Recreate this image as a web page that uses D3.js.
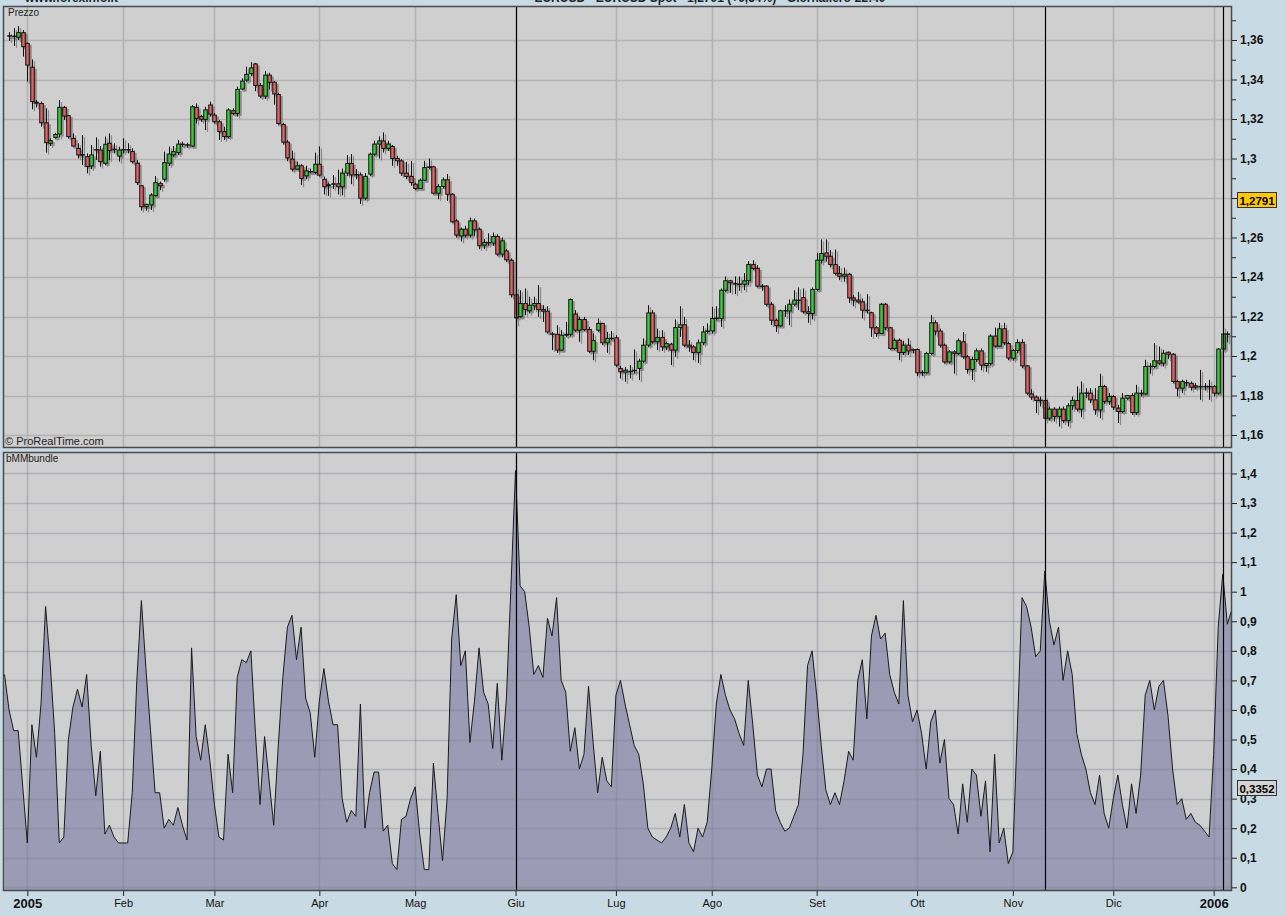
<!DOCTYPE html>
<html><head><meta charset="utf-8">
<script src="https://cdn.jsdelivr.net/npm/d3@7"></script>
<style>
body{margin:0;background:#c8dae3;overflow:hidden}
svg{display:block;font-family:"Liberation Sans",Arial,sans-serif}
</style></head><body>
<svg id="chart" width="1286" height="916"></svg>
<script>
// ---------- DATA ----------
const firstCandleDay = -4;   // trading-day index of first candle (Jan 3 2005 = 0)
const openP = [1.3620,1.3618,1.3614,1.3637,
1.3583,1.3462,1.3285,1.3279,1.3181,1.3077,1.3107,1.3124,1.3259,1.3217,
1.3102,1.3051,1.3020,1.3009,1.2962,1.3043,1.3043,1.2976,1.3077,1.3047,
1.3012,1.3045,1.3045,1.3035,1.2976,1.2862,1.2756,1.2765,1.2812,1.2874,
1.2895,1.2976,1.3018,1.3030,1.3070,1.3070,1.3063,1.3259,1.3212,1.3198,
1.3271,1.3220,1.3186,1.3136,1.3111,1.3242,1.3228,1.3352,1.3397,1.3429,
1.3479,1.3370,1.3316,1.3422,1.3386,1.3324,1.3172,1.3083,1.2997,1.2946,
1.2963,1.2912,1.2934,1.2929,1.2971,1.2895,1.2862,1.2870,1.2872,1.2857,
1.2926,1.2975,1.2919,1.2917,1.2799,1.2921,1.3022,1.3073,1.3089,1.3051,
1.3061,1.3000,1.2988,1.2926,1.2909,1.2870,1.2848,1.2890,1.2958,1.2958,
1.2824,1.2858,1.2892,1.2819,1.2684,1.2608,1.2642,1.2612,1.2684,1.2642,
1.2561,1.2575,1.2572,1.2605,1.2516,1.2532,1.2485,1.2310,1.2199,1.2266,
1.2229,1.2254,1.2266,1.2235,1.2227,1.2112,1.2110,1.2030,1.2105,1.2110,
1.2212,1.2131,1.2185,1.2134,1.2024,1.2131,1.2165,1.2067,1.2090,1.2092,
1.1937,1.1918,1.1922,1.1925,1.1937,1.1974,1.2055,1.2218,1.2072,1.2094,
1.2046,1.2060,1.2030,1.2144,1.2158,1.2055,1.2046,1.2018,1.2067,1.2125,
1.2127,1.2190,1.2190,1.2333,1.2381,1.2367,1.2365,1.2363,1.2381,1.2463,
1.2443,1.2354,1.2354,1.2262,1.2181,1.2153,1.2229,1.2228,1.2262,1.2283,
1.2296,1.2224,1.2215,1.2337,1.2485,1.2522,1.2505,1.2463,1.2418,1.2404,
1.2414,1.2294,1.2283,1.2274,1.2232,1.2219,1.2143,1.2114,1.2262,1.2143,
1.2038,1.2080,1.2018,1.2055,1.2032,1.2033,1.1915,1.1915,1.2013,1.2168,
1.2126,1.2055,1.1970,1.2021,1.2013,1.2072,1.1996,1.1932,1.1982,1.2026,
1.1952,1.1962,1.2101,1.2050,1.2138,1.2063,1.1989,1.2028,1.2068,1.1950,
1.1808,1.1792,1.1776,1.1775,1.1685,1.1731,1.1694,1.1731,1.1673,1.1748,
1.1775,1.1731,1.1812,1.1812,1.1778,1.1727,1.1846,1.1770,1.1795,1.1736,
1.1719,1.1786,1.1800,1.1714,1.1808,1.1808,1.1947,1.1947,1.1976,1.1964,
1.2019,1.2009,1.1871,1.1837,1.1866,1.1862,1.1842,1.1846,1.1846,1.1846,
1.1846,1.1812,1.2035,1.2112];
const highP = [1.3640,1.3660,1.3670,1.3650,
1.3587,1.3502,1.3296,1.3288,1.3254,1.3102,1.3130,1.3296,1.3266,1.3220,
1.3127,1.3077,1.3119,1.3026,1.3068,1.3107,1.3063,1.3111,1.3127,1.3077,
1.3060,1.3102,1.3077,1.3052,1.2992,1.2866,1.2770,1.2824,1.2911,1.2883,
1.3035,1.3060,1.3063,1.3094,1.3085,1.3080,1.3271,1.3279,1.3220,1.3262,
1.3288,1.3229,1.3195,1.3161,1.3254,1.3254,1.3364,1.3406,1.3465,1.3488,
1.3484,1.3383,1.3442,1.3434,1.3392,1.3333,1.3181,1.3093,1.3040,1.2984,
1.2971,1.2963,1.2949,1.3030,1.3061,1.2909,1.2878,1.2916,1.2943,1.2949,
1.3017,1.3022,1.2946,1.2929,1.2926,1.3030,1.3090,1.3112,1.3132,1.3090,
1.3068,1.3014,1.2997,1.2983,1.2988,1.2878,1.2899,1.2988,1.3000,1.2963,
1.2870,1.2904,1.2921,1.2824,1.2693,1.2650,1.2659,1.2701,1.2696,1.2651,
1.2592,1.2621,1.2625,1.2617,1.2600,1.2541,1.2494,1.2350,1.2333,1.2342,
1.2300,1.2300,1.2359,1.2257,1.2252,1.2122,1.2156,1.2131,1.2173,1.2291,
1.2232,1.2198,1.2198,1.2148,1.2114,1.2190,1.2168,1.2122,1.2127,1.2105,
1.1949,1.1945,1.1954,1.2033,1.1987,1.2089,1.2257,1.2232,1.2139,1.2131,
1.2072,1.2067,1.2185,1.2252,1.2198,1.2080,1.2055,1.2084,1.2151,1.2165,
1.2249,1.2252,1.2342,1.2403,1.2386,1.2403,1.2403,1.2420,1.2481,1.2485,
1.2460,1.2365,1.2359,1.2274,1.2190,1.2235,1.2257,1.2286,1.2333,1.2347,
1.2342,1.2252,1.2347,1.2522,1.2590,1.2590,1.2536,1.2539,1.2455,1.2448,
1.2421,1.2308,1.2325,1.2291,1.2313,1.2224,1.2151,1.2269,1.2269,1.2148,
1.2089,1.2089,1.2077,1.2089,1.2038,1.2038,1.1928,1.2021,1.2207,1.2181,
1.2139,1.2063,1.2030,1.2030,1.2089,1.2122,1.2005,1.1996,1.2038,1.2038,
1.1965,1.2110,1.2144,1.2168,1.2168,1.2072,1.2035,1.2085,1.2085,1.1955,
1.1832,1.1800,1.1795,1.1795,1.1744,1.1741,1.1744,1.1744,1.1761,1.1795,
1.1846,1.1871,1.1837,1.1837,1.1837,1.1910,1.1854,1.1812,1.1803,1.1753,
1.1812,1.1803,1.1812,1.1854,1.1829,1.1981,1.1964,1.2065,1.2048,1.2031,
1.2023,1.2014,1.1880,1.1880,1.1880,1.1871,1.1863,1.1930,1.1863,1.1880,
1.1854,1.2040,1.2149,1.2125];
const lowP = [1.3595,1.3570,1.3600,1.3516,
1.3389,1.3249,1.3259,1.3161,1.3030,1.3063,1.3100,1.3107,1.3195,1.3102,
1.3060,1.3001,1.2967,1.2925,1.2946,1.2992,1.2959,1.2967,1.2992,1.3026,
1.2984,1.3026,1.3026,1.2976,1.2866,1.2736,1.2736,1.2739,1.2807,1.2840,
1.2883,1.2962,1.3008,1.3018,1.3060,1.3055,1.3060,1.3178,1.3186,1.3144,
1.3212,1.3178,1.3094,1.3094,1.3102,1.3220,1.3212,1.3347,1.3389,1.3417,
1.3341,1.3307,1.3302,1.3349,1.3273,1.3172,1.3071,1.2986,1.2935,1.2942,
1.2865,1.2895,1.2925,1.2921,1.2909,1.2818,1.2811,1.2845,1.2818,1.2814,
1.2912,1.2870,1.2895,1.2770,1.2789,1.2912,1.3014,1.3000,1.3030,1.3039,
1.2963,1.2963,1.2912,1.2895,1.2862,1.2841,1.2845,1.2887,1.2946,1.2819,
1.2794,1.2848,1.2785,1.2676,1.2600,1.2580,1.2600,1.2600,1.2608,1.2541,
1.2541,1.2558,1.2558,1.2507,1.2499,1.2477,1.2296,1.2160,1.2194,1.2207,
1.2215,1.2232,1.2198,1.2173,1.2114,1.2030,1.2016,1.2026,1.2097,1.2100,
1.2122,1.2072,1.2127,1.2016,1.1979,1.2122,1.2055,1.2016,1.2080,1.1945,
1.1886,1.1869,1.1886,1.1911,1.1878,1.1965,1.2046,1.2063,1.2030,1.2026,
1.2030,1.1954,1.1996,1.2097,1.2046,1.2021,1.1979,1.1965,1.2055,1.2114,
1.2114,1.2180,1.2148,1.2325,1.2320,1.2313,1.2330,1.2333,1.2359,1.2435,
1.2347,1.2330,1.2252,1.2156,1.2122,1.2148,1.2198,1.2156,1.2252,1.2232,
1.2215,1.2168,1.2185,1.2330,1.2468,1.2477,1.2448,1.2409,1.2384,1.2376,
1.2269,1.2252,1.2266,1.2190,1.2215,1.2097,1.2097,1.2110,1.2131,1.2033,
1.2030,1.1979,1.2005,1.2005,1.2013,1.1898,1.1898,1.1911,1.2005,1.2105,
1.2043,1.1962,1.1962,1.1911,1.2005,1.1987,1.1911,1.1878,1.1970,1.1928,
1.1920,1.1952,1.2043,1.2046,1.2055,1.1979,1.1977,1.2014,1.1938,1.1803,
1.1778,1.1711,1.1744,1.1668,1.1673,1.1668,1.1643,1.1660,1.1643,1.1727,
1.1719,1.1690,1.1786,1.1761,1.1702,1.1685,1.1758,1.1753,1.1727,1.1660,
1.1711,1.1778,1.1702,1.1702,1.1795,1.1803,1.1910,1.1940,1.1955,1.1947,
1.1985,1.1862,1.1795,1.1812,1.1846,1.1825,1.1832,1.1778,1.1825,1.1778,
1.1795,1.1805,1.2025,1.2070];
const closeP = [1.3622,1.3620,1.3637,1.3566,
1.3473,1.3288,1.3280,1.3181,1.3080,1.3090,1.3122,1.3259,1.3215,1.3111,
1.3063,1.3018,1.3017,1.2959,1.3018,1.3045,1.2984,1.3072,1.3040,1.3045,
1.3043,1.3045,1.3043,1.2984,1.2878,1.2756,1.2768,1.2815,1.2878,1.2862,
1.2979,1.3023,1.3035,1.3073,1.3073,1.3068,1.3262,1.3203,1.3198,1.3246,
1.3225,1.3186,1.3136,1.3111,1.3246,1.3228,1.3350,1.3392,1.3426,1.3459,
1.3370,1.3316,1.3422,1.3386,1.3327,1.3177,1.3083,1.3003,1.2946,1.2963,
1.2899,1.2937,1.2932,1.2971,1.2916,1.2857,1.2867,1.2872,1.2857,1.2926,
1.2975,1.2917,1.2917,1.2799,1.2909,1.3022,1.3073,1.3089,1.3051,1.3073,
1.3000,1.2988,1.2926,1.2909,1.2878,1.2848,1.2890,1.2954,1.2954,1.2824,
1.2858,1.2892,1.2819,1.2679,1.2612,1.2642,1.2612,1.2684,1.2639,1.2558,
1.2575,1.2572,1.2605,1.2516,1.2583,1.2487,1.2310,1.2193,1.2266,1.2235,
1.2257,1.2266,1.2235,1.2227,1.2122,1.2110,1.2030,1.2105,1.2110,1.2286,
1.2131,1.2185,1.2134,1.2024,1.2078,1.2165,1.2067,1.2089,1.2088,1.1954,
1.1920,1.1928,1.1923,1.1928,1.1974,1.2055,1.2218,1.2072,1.2094,1.2046,
1.2063,1.2030,1.2144,1.2158,1.2055,1.2046,1.2018,1.2067,1.2122,1.2127,
1.2190,1.2192,1.2333,1.2381,1.2371,1.2367,1.2363,1.2381,1.2463,1.2443,
1.2354,1.2352,1.2262,1.2181,1.2153,1.2229,1.2230,1.2262,1.2283,1.2282,
1.2224,1.2215,1.2337,1.2485,1.2519,1.2505,1.2463,1.2418,1.2404,1.2414,
1.2294,1.2283,1.2274,1.2232,1.2232,1.2143,1.2114,1.2262,1.2143,1.2038,
1.2080,1.2018,1.2055,1.2026,1.2030,1.1915,1.1917,1.2013,1.2168,1.2126,
1.2055,1.1970,1.2021,1.2013,1.2077,1.1996,1.1932,1.1982,1.2026,1.1954,
1.1962,1.2101,1.2050,1.2138,1.2067,1.1990,1.2028,1.2068,1.1950,1.1812,
1.1792,1.1775,1.1775,1.1685,1.1731,1.1694,1.1731,1.1673,1.1748,1.1775,
1.1731,1.1812,1.1813,1.1778,1.1727,1.1846,1.1770,1.1795,1.1741,1.1719,
1.1786,1.1800,1.1714,1.1812,1.1812,1.1947,1.1948,1.1976,1.1964,1.2014,
1.2009,1.1871,1.1837,1.1871,1.1866,1.1842,1.1849,1.1846,1.1845,1.1846,
1.1812,1.2035,1.2112,1.2110];

const firstIndDay = -5;
const bundle = [0.72,0.60,0.53,0.53,0.34,
0.15,0.55,0.44,0.62,0.95,0.76,0.52,0.15,0.17,0.50,
0.61,0.67,0.61,0.72,0.48,0.31,0.46,0.18,0.21,0.17,
0.15,0.15,0.15,0.32,0.70,0.97,0.74,0.53,0.32,0.32,
0.20,0.23,0.21,0.27,0.21,0.16,0.81,0.51,0.43,0.55,
0.43,0.28,0.17,0.16,0.45,0.32,0.71,0.77,0.76,0.80,
0.52,0.28,0.51,0.36,0.21,0.48,0.71,0.88,0.92,0.77,
0.88,0.64,0.59,0.44,0.63,0.74,0.63,0.55,0.55,0.30,
0.22,0.26,0.24,0.62,0.20,0.32,0.39,0.39,0.19,0.21,
0.08,0.06,0.23,0.24,0.30,0.34,0.18,0.06,0.06,0.42,
0.25,0.09,0.30,0.84,0.99,0.75,0.80,0.49,0.63,0.81,
0.66,0.62,0.47,0.69,0.43,0.64,1.02,1.41,1.02,1.00,
0.88,0.72,0.75,0.71,0.91,0.85,0.98,0.70,0.66,0.46,
0.54,0.40,0.45,0.68,0.49,0.32,0.44,0.36,0.34,0.65,
0.70,0.62,0.55,0.48,0.45,0.35,0.20,0.17,0.16,0.15,
0.17,0.20,0.25,0.17,0.28,0.15,0.12,0.20,0.17,0.22,
0.40,0.62,0.72,0.65,0.60,0.57,0.52,0.48,0.70,0.55,
0.38,0.34,0.40,0.40,0.26,0.22,0.19,0.20,0.24,0.28,
0.45,0.75,0.80,0.65,0.48,0.33,0.28,0.32,0.28,0.36,
0.46,0.43,0.70,0.77,0.57,0.85,0.92,0.84,0.86,0.72,
0.66,0.62,0.97,0.65,0.56,0.60,0.52,0.40,0.56,0.60,
0.42,0.50,0.30,0.28,0.18,0.35,0.22,0.40,0.38,0.24,
0.36,0.12,0.45,0.15,0.20,0.08,0.12,0.55,0.98,0.95,
0.88,0.78,0.80,1.07,0.90,0.82,0.88,0.70,0.80,0.72,
0.52,0.45,0.40,0.32,0.28,0.38,0.25,0.20,0.30,0.38,
0.28,0.20,0.35,0.25,0.38,0.65,0.70,0.60,0.68,0.70,
0.58,0.40,0.28,0.30,0.23,0.25,0.22,0.21,0.19,0.17,
0.45,0.88,1.06,0.89,0.94];

const monthLabels = ["2005","Feb","Mar","Apr","Mag","Giu","Lug","Ago","Set","Ott","Nov","Dic","2006"];
const monthDays   = [0,21,41,64,85,107,129,150,173,195,216,238,260];
const boldLabels  = ["2005","2006"];
const markerDays  = [107,223,262];
const priceTicks  = [1.16,1.18,1.20,1.22,1.24,1.26,1.28,1.30,1.32,1.34,1.36];
const priceMinor  = [1.15,1.17,1.19,1.21,1.23,1.25,1.27,1.29,1.31,1.33,1.35,1.37];
const bundleTicks = [0,0.1,0.2,0.3,0.4,0.5,0.6,0.7,0.8,0.9,1.0,1.1,1.2,1.3,1.4];
const lastPrice = 1.2791;
const lastBundle = 0.3352;
const headerLeft = "www.forexinfo.it";
const headerCenter = "EURUSD - EURUSD Spot - 1,2791 (+0,54%) - Giornaliero-22:40";

// ---------- BUILD ----------
const candles = openP.map((o,i)=>({d:i+firstCandleDay,o,h:highP[i],l:lowP[i],c:closeP[i]}));
const ind = bundle.map((v,i)=>({d:i+firstIndDay,v}));
const fmt = v => String(+v.toFixed(2)).replace(".",",");

const L = 3, R = 1232;
const top1 = 6, bot1 = 448, top2 = 452, bot2 = 891;

const x  = d3.scaleLinear().domain([-5,264]).range([4.5,1231.9]);
const yP = d3.scaleLinear().domain([1.16,1.36]).range([435,40]);
const yI = d3.scaleLinear().domain([0,1]).range([887.3,591.7]);

const svg = d3.select("#chart");
const defs = svg.append("defs");
defs.append("clipPath").attr("id","clipTop").append("rect").attr("x",L).attr("y",top1).attr("width",R-L).attr("height",bot1-top1);
defs.append("clipPath").attr("id","clipBot").append("rect").attr("x",L).attr("y",top2).attr("width",R-L).attr("height",bot2-top2);

// header (cropped at top of window, as in the reference)
svg.append("text").attr("x",25).attr("y",2).attr("font-size",12).attr("font-weight","bold").attr("fill","#222").text(headerLeft);
svg.append("text").attr("x",710).attr("y",2).attr("text-anchor","middle").attr("font-size",12).attr("font-weight","bold").attr("fill","#222").text(headerCenter);

// panels
const bgCol = "#cfcfcf", gridCol = "#b2b2b2";
svg.append("rect").attr("x",L).attr("y",top1).attr("width",R-L).attr("height",bot1-top1).attr("fill",bgCol);
svg.append("rect").attr("x",L).attr("y",top2).attr("width",R-L).attr("height",bot2-top2).attr("fill",bgCol);

// ---- top panel grid
const g1 = svg.append("g").attr("clip-path","url(#clipTop)");
g1.selectAll("line.h").data(priceTicks).join("line")
  .attr("x1",L).attr("x2",R).attr("y1",d=>Math.round(yP(d))+0.5).attr("y2",d=>Math.round(yP(d))+0.5)
  .attr("stroke",gridCol).attr("stroke-width",1.6);
g1.selectAll("line.v").data(monthDays).join("line")
  .attr("y1",top1).attr("y2",bot1).attr("x1",d=>Math.round(x(d))+0.5).attr("x2",d=>Math.round(x(d))+0.5)
  .attr("stroke",gridCol).attr("stroke-width",1.6);

// candles: shadow then body
const cx = d=>Math.round(x(d))+0.5;
const sh = g1.append("g").attr("transform","translate(2,2)").attr("opacity",0.55);
sh.selectAll("line").data(candles).join("line")
  .attr("x1",d=>cx(d.d)).attr("x2",d=>cx(d.d)).attr("y1",d=>yP(d.h)).attr("y2",d=>yP(d.l))
  .attr("stroke","#555").attr("stroke-width",1.2);
sh.selectAll("rect").data(candles).join("rect")
  .attr("x",d=>cx(d.d)-2.25).attr("width",4.5)
  .attr("y",d=>Math.min(yP(d.o),yP(d.c))-0.5).attr("height",d=>Math.max(1,Math.abs(yP(d.o)-yP(d.c)))+1)
  .attr("fill","#555");
const cg = g1.append("g");
cg.selectAll("line").data(candles).join("line")
  .attr("x1",d=>cx(d.d)).attr("x2",d=>cx(d.d)).attr("y1",d=>yP(d.h)).attr("y2",d=>yP(d.l))
  .attr("stroke","#111").attr("stroke-width",1);
cg.selectAll("rect").data(candles).join("rect")
  .attr("x",d=>cx(d.d)-1.75).attr("width",3.5)
  .attr("y",d=>Math.min(yP(d.o),yP(d.c))).attr("height",d=>Math.max(0.5,Math.abs(yP(d.o)-yP(d.c))))
  .attr("fill",d=>d.c>=d.o?"#3ccb3c":"#e06262").attr("stroke","#111").attr("stroke-width",1);

// ---- bottom panel
const g2 = svg.append("g").attr("clip-path","url(#clipBot)");
const area = d3.area().x(d=>x(d.d)).y0(yI(0)+4).y1(d=>yI(d.v));
const line = d3.line().x(d=>x(d.d)).y(d=>yI(d.v));
g2.append("path").datum(ind).attr("d",area).attr("fill","#9b9bb5");
g2.selectAll("line.h").data(bundleTicks).join("line")
  .attr("x1",L).attr("x2",R).attr("y1",d=>Math.round(yI(d))+0.5).attr("y2",d=>Math.round(yI(d))+0.5)
  .attr("stroke","rgb(120,120,140)").attr("stroke-opacity",0.35).attr("stroke-width",1.6);
g2.selectAll("line.v").data(monthDays).join("line")
  .attr("y1",top2).attr("y2",bot2).attr("x1",d=>Math.round(x(d))+0.5).attr("x2",d=>Math.round(x(d))+0.5)
  .attr("stroke","rgb(120,120,140)").attr("stroke-opacity",0.35).attr("stroke-width",1.6);
g2.append("path").datum(ind).attr("d",line).attr("fill","none").attr("stroke","#1a1a1a").attr("stroke-width",1);

// marker vertical lines
[[top1,bot1],[top2,bot2]].forEach(([a,b])=>{
  svg.append("g").selectAll("line").data(markerDays).join("line")
    .attr("x1",d=>Math.round(x(d))+0.5).attr("x2",d=>Math.round(x(d))+0.5).attr("y1",a).attr("y2",b)
    .attr("stroke","#000").attr("stroke-width",1.2);
});

// panel borders
[[top1,bot1],[top2,bot2]].forEach(([a,b])=>{
  svg.append("rect").attr("x",L+0.5).attr("y",a+0.5).attr("width",R-L-1).attr("height",b-a-1)
    .attr("fill","none").attr("stroke","#4a4a4a").attr("stroke-width",1.5);
});

// panel titles
svg.append("text").attr("x",8).attr("y",16).attr("font-size",10).attr("fill","#222").text("Prezzo");
svg.append("text").attr("x",6).attr("y",462).attr("font-size",10).attr("fill","#222").text("bMMbundle");
svg.append("text").attr("x",5).attr("y",445).attr("font-size",11).attr("fill","#222").text("\u00A9 ProRealTime.com");

// right axes (labels hidden behind the price badge are left out, as in the reference)
const badgeY = yP(lastPrice);
const axP = d3.axisRight(yP).tickValues(priceTicks)
  .tickFormat(v => Math.abs(yP(v)-badgeY) < 9 ? "" : fmt(v)).tickSize(5).tickPadding(3);
const gaP = svg.append("g").attr("transform",`translate(${R},0)`).call(axP);
const axPm = d3.axisRight(yP).tickValues(priceMinor.filter(v=>yP(v)>top1&&yP(v)<bot1)).tickFormat("").tickSize(4);
const gaPm = svg.append("g").attr("transform",`translate(${R},0)`).call(axPm);
const axI = d3.axisRight(yI).tickValues(bundleTicks).tickFormat(fmt).tickSize(5).tickPadding(3);
const gaI = svg.append("g").attr("transform",`translate(${R},0)`).call(axI);
[gaP,gaPm,gaI].forEach(g=>{
  g.select(".domain").remove();
  g.selectAll("line").attr("stroke","#222");
  g.selectAll("text").attr("font-size",12).attr("font-weight","bold").attr("fill","#111")
   .attr("font-family","'Liberation Sans',Arial,sans-serif");
});

// bottom axis
const axX = d3.axisBottom(x).tickValues(monthDays).tickFormat((d,i)=>monthLabels[i]).tickSize(5).tickPadding(3);
const gaX = svg.append("g").attr("transform",`translate(0,${bot2})`).call(axX);
gaX.select(".domain").remove();
gaX.selectAll("line").attr("stroke","#222");
gaX.selectAll("text").attr("font-family","'Liberation Sans',Arial,sans-serif").attr("fill","#111")
  .attr("font-size",(d,i)=>boldLabels.includes(monthLabels[i])?13:11)
  .attr("font-weight",(d,i)=>boldLabels.includes(monthLabels[i])?"bold":"normal");

// value badges
function badge(yv, txt, fill){
  const g = svg.append("g").attr("transform",`translate(1237,${Math.round(yv)})`);
  g.append("rect").attr("x",0.5).attr("y",-7.5).attr("width",39).attr("height",15).attr("fill",fill).attr("stroke","#333");
  g.append("text").attr("x",20).attr("y",4.5).attr("text-anchor","middle").attr("font-size",11.5).attr("font-weight","bold").attr("fill","#000").text(txt);
}
badge(yP(lastPrice), String(lastPrice).replace(".",","), "#ffc800");
badge(yI(lastBundle), String(lastBundle).replace(".",","), "#d4d4d4");
</script></body></html>
